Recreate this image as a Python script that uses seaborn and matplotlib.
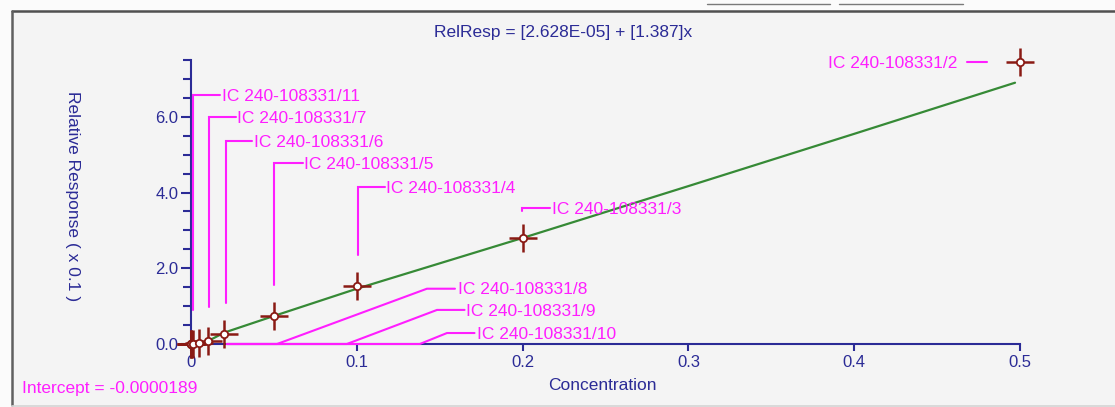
import matplotlib
matplotlib.use("Agg")
import matplotlib.pyplot as plt
import seaborn as sns
import pandas as pd
from matplotlib.lines import Line2D
from matplotlib.patches import Rectangle
from matplotlib.ticker import MultipleLocator

# ---------------- data ----------------
conc = [0.0, 0.0, 0.0, 0.001, 0.005, 0.01, 0.02, 0.05, 0.1, 0.2, 0.5]
resp = [0.0, 0.0, 0.0, 0.01, 0.03, 0.07, 0.26, 0.73, 1.52, 2.79, 7.44]

fit_conc = [0.0095, 0.02, 0.05, 0.1, 0.2, 0.3, 0.4, 0.497]
fit_resp = [0.06, 0.30, 0.74, 1.46, 2.80, 4.17, 5.55, 6.90]

sample_names = ["IC 240-108331/11", "IC 240-108331/7", "IC 240-108331/6",
                "IC 240-108331/5", "IC 240-108331/4", "IC 240-108331/3",
                "IC 240-108331/2", "IC 240-108331/8", "IC 240-108331/9",
                "IC 240-108331/10"]

x_ticks = [0, 0.1, 0.2, 0.3, 0.4, 0.5]
x_tick_labels = ["0", "0.1", "0.2", "0.3", "0.4", "0.5"]
y_ticks = [0.0, 2.0, 4.0, 6.0]
y_tick_labels = ["0.0", "2.0", "4.0", "6.0"]

title_text = "RelResp = [2.628E-05] + [1.387]x"
intercept_text = "Intercept = -0.0000189"
x_label = "Concentration"
y_label = "Relative Response ( x 0.1 )"

# ---------------- layout of annotations (leader paths + text anchors) ----------------
leader_paths = [
    [(0.0012, 0.90), (0.0012, 6.57), (0.0175, 6.57)],
    [(0.0109, 0.98), (0.0109, 5.99), (0.0271, 5.99)],
    [(0.0211, 1.09), (0.0211, 5.35), (0.0368, 5.35)],
    [(0.0501, 1.56), (0.0501, 4.77), (0.0674, 4.77)],
    [(0.1005, 2.35), (0.1005, 4.14), (0.1170, 4.14)],
    [(0.1995, 3.52), (0.1995, 3.59), (0.2165, 3.59)],
    [(0.4680, 7.44), (0.4800, 7.44)],
    [(0.0217, 0.0), (0.0519, 0.0), (0.1423, 1.46), (0.1592, 1.46)],
    [(0.0217, 0.0), (0.0940, 0.0), (0.1484, 0.90), (0.1650, 0.90)],
    [(0.0217, 0.0), (0.1380, 0.0), (0.1544, 0.29), (0.1710, 0.29)],
]
text_pos = [(0.0187, 6.57, "left"), (0.0280, 5.99, "left"), (0.0377, 5.35, "left"),
            (0.0680, 4.77, "left"), (0.1178, 4.14, "left"), (0.2177, 3.59, "left"),
            (0.4620, 7.44, "right"), (0.1610, 1.49, "left"), (0.1659, 0.90, "left"),
            (0.1725, 0.29, "left")]

# ---------------- styling ----------------
W, H = 1115, 407
BG = "#F4F4F4"
NAVY = "#2B2B96"
MAGENTA = "#FF1EFF"
DARKRED = "#8A1A14"
GREEN = "#368A36"
FONT = ["Liberation Sans", "DejaVu Sans"]

sns.set_theme(style="white")
plt.rcParams["font.family"] = FONT

fig = plt.figure(figsize=(W / 100, H / 100), dpi=100)
fig.patch.set_facecolor("#FBFBFB")

# panel background + frame
fig.add_artist(Rectangle((12 / W, 0), 1, 1 - 11 / H, transform=fig.transFigure,
                         facecolor=BG, edgecolor="none", zorder=0))
fig.add_artist(Line2D([12 / W, 1], [1 - 11 / H, 1 - 11 / H], transform=fig.transFigure,
                      color="#505050", lw=1.8))
fig.add_artist(Line2D([12 / W, 12 / W], [1 - 11 / H, 1 - 405 / H], transform=fig.transFigure,
                      color="#606060", lw=1.8))
fig.add_artist(Line2D([12 / W, 1], [1 - 405.5 / H, 1 - 405.5 / H], transform=fig.transFigure,
                      color="#D4D4D4", lw=1.2))
fig.add_artist(Line2D([707 / W, 830 / W], [1 - 4 / H, 1 - 4 / H], transform=fig.transFigure,
                      color="#7A7A7A", lw=1.0))
fig.add_artist(Line2D([839 / W, 963 / W], [1 - 4 / H, 1 - 4 / H], transform=fig.transFigure,
                      color="#7A7A7A", lw=1.0))

ax = fig.add_axes([191 / W, 1 - 344 / H, (1020 - 191) / W, (344 - 60) / H])
ax.set_facecolor("none")
ax.set_xlim(0, 0.5)
ax.set_ylim(0, 7.5)

for s in ["top", "right"]:
    ax.spines[s].set_visible(False)
for s in ["left", "bottom"]:
    ax.spines[s].set_color(NAVY)
    ax.spines[s].set_linewidth(1.5)

ax.set_xticks(x_ticks)
ax.set_xticklabels(x_tick_labels)
ax.set_yticks(y_ticks)
ax.set_yticklabels(y_tick_labels)
ax.yaxis.set_minor_locator(MultipleLocator(0.5))
ax.tick_params(axis="y", which="major", direction="out", length=7, width=1.5,
               color=NAVY, labelcolor=NAVY, labelsize=12, pad=2, left=True)
ax.tick_params(axis="y", which="minor", direction="out", length=5.5, width=1.5,
               color=NAVY, left=True)
ax.tick_params(axis="x", which="major", direction="out", length=5, width=1.5,
               color=NAVY, labelcolor=NAVY, labelsize=12, pad=3, bottom=True)
ax.set_xlabel("")
ax.set_ylabel("")
ax.grid(False)

# fit curve
fit_df = pd.DataFrame({"conc": fit_conc, "resp": fit_resp})
sns.lineplot(data=fit_df, x="conc", y="resp", ax=ax, color=GREEN, lw=1.6,
             sort=False, zorder=3)

# leader lines
for path in leader_paths:
    xs = [p[0] for p in path]
    ys = [p[1] for p in path]
    ax.plot(xs, ys, color=MAGENTA, lw=1.5, clip_on=False, zorder=3.5,
            solid_joinstyle="miter")

for name, (tx, ty, ha) in zip(sample_names, text_pos):
    ax.text(tx, ty, name, color=MAGENTA, fontsize=12.5, ha=ha, va="center_baseline",
            zorder=4)

# calibration points
pts = pd.DataFrame({"conc": conc, "resp": resp})
sns.scatterplot(data=pts, x="conc", y="resp", ax=ax, marker="+", s=400,
                color=DARKRED, linewidth=1.8, clip_on=False, zorder=5, legend=False)
sns.scatterplot(data=pts, x="conc", y="resp", ax=ax, marker="o", s=28,
                facecolor="white", edgecolor=DARKRED, linewidth=1.3, clip_on=False,
                zorder=6, legend=False)
ax.set_xlabel("")
ax.set_ylabel("")

# texts
fig.text(563 / W, 1 - 33 / H, title_text, color=NAVY, fontsize=12.5, ha="center", va="center")
fig.text(602 / W, 1 - 386 / H, x_label, color=NAVY, fontsize=12.5, ha="center", va="center")
fig.text(72 / W, 1 - 196 / H, y_label, color=NAVY, fontsize=12.5, ha="center", va="center",
         rotation=-90)
fig.text(22 / W, 1 - 388 / H, intercept_text, color=MAGENTA, fontsize=12.5, ha="left",
         va="center")

fig.savefig("out.png", dpi=100, facecolor=fig.get_facecolor())
